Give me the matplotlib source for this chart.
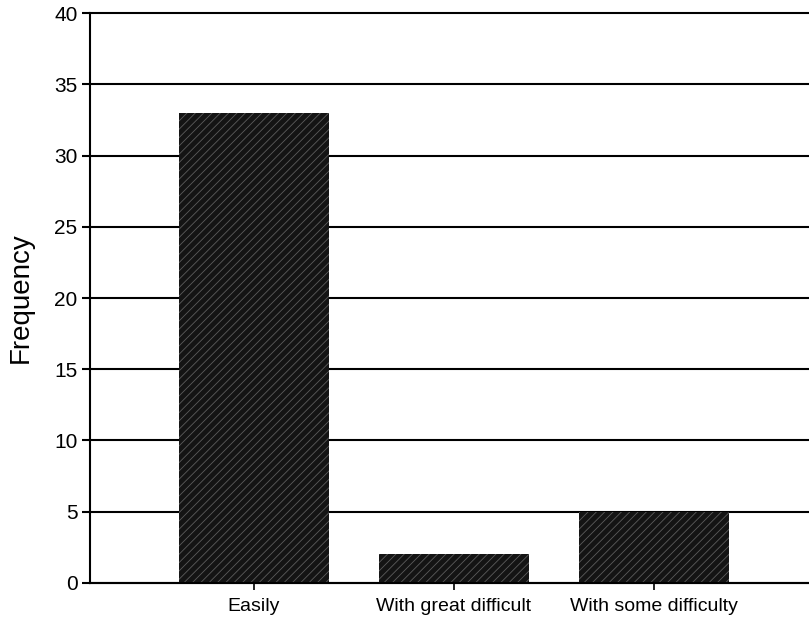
import numpy as np
import matplotlib
matplotlib.use('Agg')
import matplotlib.pyplot as plt

# data
categories = ['Easily', 'With great difficult', 'With some difficulty']
frequency = [33, 2, 5]
yticks = [0, 5, 10, 15, 20, 25, 30, 35, 40]

plt.rcParams['font.family'] = ['Liberation Sans', 'DejaVu Sans']
plt.rcParams['hatch.linewidth'] = 0.6

fig = plt.figure(figsize=(8.09, 6.2), dpi=100)
ax = fig.add_axes([0.1112, 0.0597, 0.8888, 0.9193])

x = np.arange(len(categories))

# grid lines behind the bars
for v in yticks:
  ax.axhline(v, color='black', lw=1.5, zorder=1, clip_on=False)

# dark textured bars (hatch takes the edge colour)
ax.bar(x, frequency, width=0.75, facecolor='#141414', edgecolor='#5c5c5c',
       hatch='////', linewidth=0, zorder=2)

ax.set_xlim(-0.82, 2.775)
ax.set_ylim(0, 40)
ax.set_yticks(yticks)
ax.set_xticks(x)
ax.set_xticklabels(categories, fontsize=14)
ax.tick_params(axis='y', labelsize=15, length=6, width=1.5, pad=3)
ax.tick_params(axis='x', length=5, width=1.2, pad=6)
ax.set_ylabel('Frequency', fontsize=20, labelpad=15)

for s in ['top', 'right']:
  ax.spines[s].set_visible(False)
ax.spines['left'].set_linewidth(1.5)
ax.spines['bottom'].set_linewidth(1.5)

fig.savefig('out.png', dpi=100)
